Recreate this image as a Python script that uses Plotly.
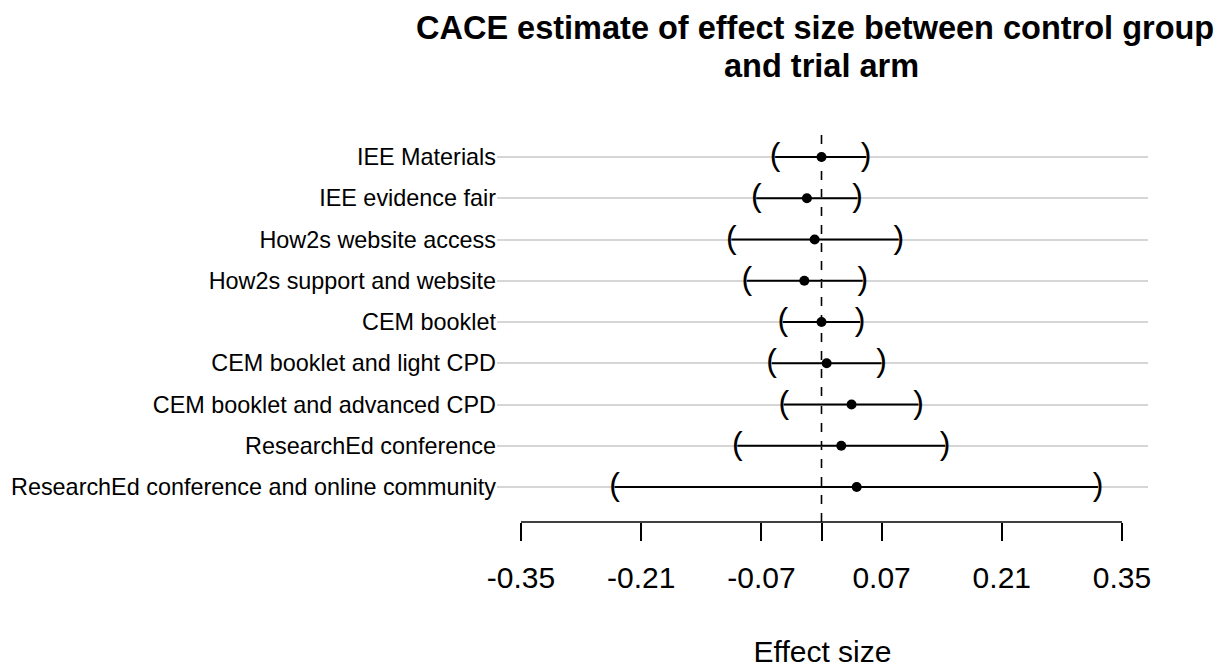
import plotly.graph_objects as go

# ---- data ----
arms = [
    "IEE Materials",
    "IEE evidence fair",
    "How2s website access",
    "How2s support and website",
    "CEM booklet",
    "CEM booklet and light CPD",
    "CEM booklet and advanced CPD",
    "ResearchEd conference",
    "ResearchEd conference and online community",
]
estimate = [0.000, -0.017, -0.008, -0.020, 0.000, 0.006, 0.035, 0.023, 0.041]
ci_lower = [-0.054, -0.076, -0.105, -0.087, -0.045, -0.058, -0.044, -0.098, -0.241]
ci_upper = [0.052, 0.042, 0.090, 0.048, 0.045, 0.070, 0.113, 0.144, 0.322]
tick_values = [-0.35, -0.21, -0.07, 0.0, 0.07, 0.21, 0.35]
tick_labels = ["-0.35", "-0.21", "-0.07", "", "0.07", "0.21", "0.35"]
title_lines = ["CACE estimate of effect size between control group", "and trial arm"]
x_title = "Effect size"

FONT = "Liberation Sans, Arial, sans-serif"

fig = go.Figure()

# CI lines
xs, ys = [], []
for lo, hi, a in zip(ci_lower, ci_upper, arms):
    xs += [lo, hi, None]
    ys += [a, a, None]
fig.add_trace(go.Scatter(x=xs, y=ys, mode="lines",
                         line=dict(color="black", width=2),
                         hoverinfo="skip", showlegend=False))

# brackets
fig.add_trace(go.Scatter(x=ci_lower, y=arms, mode="text", text=["("] * len(arms),
                         textposition="middle center",
                         textfont=dict(family=FONT, size=32, color="black"),
                         hoverinfo="skip", showlegend=False))
fig.add_trace(go.Scatter(x=ci_upper, y=arms, mode="text", text=[")"] * len(arms),
                         textposition="middle center",
                         textfont=dict(family=FONT, size=32, color="black"),
                         hoverinfo="skip", showlegend=False))

# point estimates
fig.add_trace(go.Scatter(x=estimate, y=arms, mode="markers",
                         marker=dict(color="black", size=10),
                         showlegend=False))

# zero reference line (dashed)
fig.add_shape(type="line", xref="x", yref="paper", x0=0, x1=0, y0=0, y1=1,
              line=dict(color="black", width=1.6, dash="dash"), layer="below")
# R-style axis line spanning first to last tick
fig.add_shape(type="line", xref="x", yref="paper",
              x0=tick_values[0], x1=tick_values[-1], y0=0, y1=0,
              line=dict(color="black", width=1.6))

# title, two lines
fig.add_annotation(text="<b>" + title_lines[0] + "</b>", xref="paper", yref="paper",
                   x=0.4885, y=1.2506, xanchor="center", yanchor="middle",
                   showarrow=False, font=dict(family=FONT, size=32.5, color="black"))
fig.add_annotation(text="<b>" + title_lines[1] + "</b>", xref="paper", yref="paper",
                   x=0.4985, y=1.1544, xanchor="center", yanchor="middle",
                   showarrow=False, font=dict(family=FONT, size=32.5, color="black"))

fig.update_layout(
    width=1227, height=666,
    margin=dict(l=489, r=87, t=119, b=152, autoexpand=False),
    plot_bgcolor="white", paper_bgcolor="white",
    font=dict(family=FONT, color="black"),
    xaxis=dict(range=[-0.37795, 0.38028], showgrid=False, zeroline=False,
               showline=False, ticks="outside", ticklen=18, tickwidth=1.6,
               tickcolor="black", tickvals=tick_values, ticktext=tick_labels,
               tickfont=dict(family=FONT, size=30, color="black"),
               ticklabelstandoff=11, automargin=False,
               title=dict(text=x_title, standoff=47,
                          font=dict(family=FONT, size=30, color="black"))),
    yaxis=dict(type="category", categoryorder="array", categoryarray=arms,
               range=[8.848, -0.727], showgrid=True, gridcolor="#d6d6d6",
               gridwidth=2, zeroline=False, showline=False, ticks="",
               automargin=False,
               tickfont=dict(family=FONT, size=23.4, color="black")),
)

fig.write_html("out.html")
